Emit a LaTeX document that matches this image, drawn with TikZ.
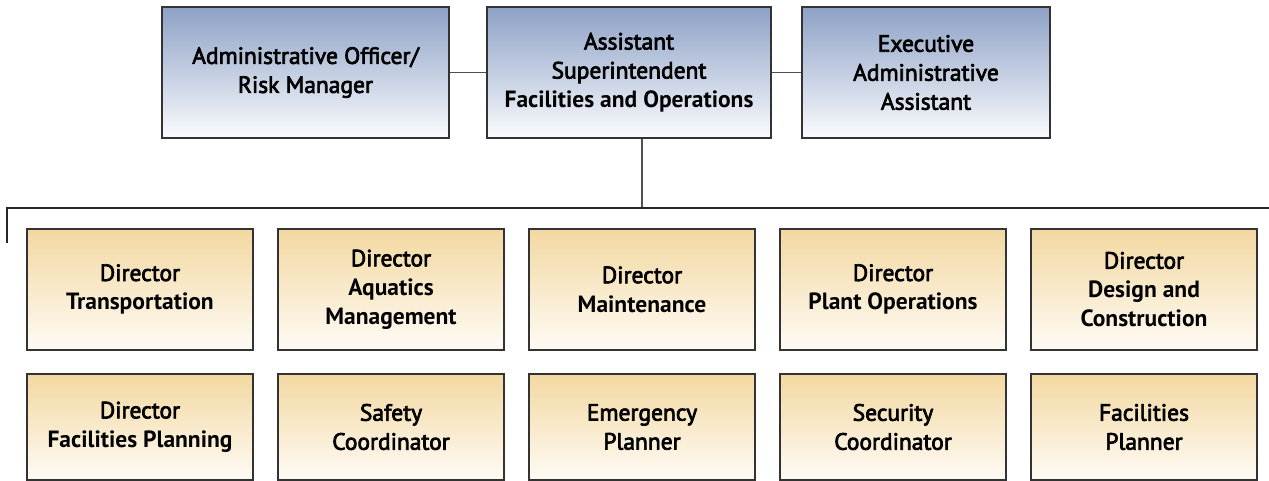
\documentclass[tikz,border=0pt]{standalone}
\usepackage{fontspec}
\setmainfont{PT Sans}
\newfontfamily\semibf{PT Sans}[FakeBold=3]
\usetikzlibrary{positioning}
\definecolor{steelblue}{RGB}{141,161,198}
\definecolor{paleblue}{RGB}{250,251,253}
\definecolor{wheat}{RGB}{243,216,161}
\definecolor{cream}{RGB}{254,251,245}
\definecolor{linegray}{RGB}{80,80,80}
\newcommand{\boldline}[1]{{\rmfamily\bfseries #1}}

\tikzset{
  boxtext/.style={align=center, inner sep=0pt, font=\semibf\fontsize{23.5}{29}\selectfont},
  topbox/.style={boxtext, draw=black!80, line width=1.3pt, minimum height=131pt,
    top color=steelblue, middle color=steelblue!50!paleblue, bottom color=paleblue},
  deptbox/.style={boxtext, draw=black!80, line width=1.3pt, minimum width=226pt,
    top color=wheat, middle color=wheat!88!cream, bottom color=cream},
  conn/.style={draw=linegray, line width=1.6pt}
}

\begin{document}
\begin{tikzpicture}[x=1pt, y=-1pt]
  \useasboundingbox (0,0) rectangle (1269,481);
  % top row
  \node[topbox, minimum width=287pt] (admin) at (305.5,72.5) {Administrative Officer/\\Risk Manager};
  \node[topbox, minimum width=284pt] (asst) at (629,72.5) {Assistant\\Superintendent\\\boldline{Facilities and Operations}};
  \node[topbox, minimum width=248pt] (exec) at (926,72.5) {Executive\\Administrative\\Assistant};
  % directors
  \node[deptbox, minimum height=121pt] (trans) at (140,289.5) {Director\\\boldline{Transportation}};
  \node[deptbox, minimum height=121pt] (aquat) at (391,289.5) {Director\\\boldline{Aquatics}\\\boldline{Management}};
  \node[deptbox, minimum height=121pt] (maint) at (642,289.5) {Director\\\boldline{Maintenance}};
  \node[deptbox, minimum height=121pt] (plant) at (893,289.5) {Director\\\boldline{Plant Operations}};
  \node[deptbox, minimum height=121pt] (design) at (1144,289.5) {Director\\\boldline{Design and}\\\boldline{Construction}};
  % second row
  \node[deptbox, minimum height=106pt] (fplan) at (140,427) {Director\\\boldline{Facilities Planning}};
  \node[deptbox, minimum height=106pt] (safety) at (391,427) {Safety\\Coordinator};
  \node[deptbox, minimum height=106pt] (emerg) at (642,427) {Emergency\\Planner};
  \node[deptbox, minimum height=106pt] (secur) at (893,427) {Security\\Coordinator};
  \node[deptbox, minimum height=106pt] (fplanner) at (1144,427) {Facilities\\Planner};
  % connectors
  \coordinate (busL) at (7,208);
  \coordinate (busR) at (1269,208);
  \coordinate (dropL) at (7,243);
  \draw[conn] (admin) -- (asst);
  \draw[conn] (asst) -- (exec);
  \draw[conn] (asst.south -| maint) -- (busL -| maint);
  \draw[conn, draw=black!85, line width=1.3pt] (dropL) -- (busL) -- (busR);
\end{tikzpicture}
\end{document}
